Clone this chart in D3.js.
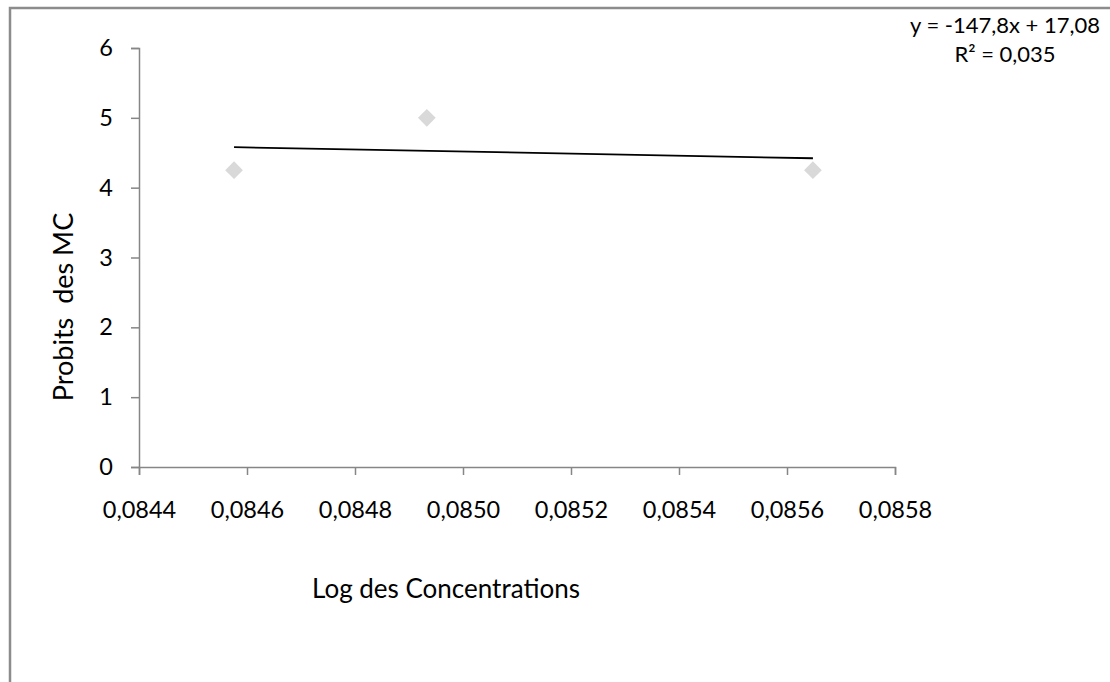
<!DOCTYPE html>
<html>
<head>
<meta charset="utf-8">
<script src="https://cdn.jsdelivr.net/npm/d3@7"></script>
<style>
  body { margin: 0; background: #fff; }
  svg text { font-family: Lato, "Open Sans", sans-serif; fill: #000; }
</style>
</head>
<body>
<div id="chart"></div>
<script>
// donnees
const logConc = [0.084576, 0.084933, 0.085648];
const probits = [4.25, 5.0, 4.25];
const xTicks = [0.0844, 0.0846, 0.0848, 0.0850, 0.0852, 0.0854, 0.0856, 0.0858];
const yTicks = [0, 1, 2, 3, 4, 5, 6];
const slope = -147.8;
const intercept = 17.08;
const eqLines = ["y = -147,8x + 17,08", "R² = 0,035"];

const width = 1110, height = 682;
const margin = { left: 139, right: 215, top: 48, bottom: 215 };

const svg = d3.select("#chart").append("svg")
  .attr("width", width)
  .attr("height", height);

// cadre
svg.append("path")
  .attr("d", `M10,${height} L10,8 L${width},8`)
  .attr("fill", "none")
  .attr("stroke", "#8c8c8c")
  .attr("stroke-width", 2.5);

const x = d3.scaleLinear()
  .domain([0.0844, 0.0858])
  .range([margin.left, width - margin.right]);

const y = d3.scaleLinear()
  .domain([0, 6])
  .range([height - margin.bottom, margin.top]);

const fmt = d => d3.format(".4f")(d).replace(".", ",");

const xAxis = svg.append("g")
  .attr("transform", `translate(0,${y(0)})`)
  .call(d3.axisBottom(x).tickValues(xTicks).tickFormat(fmt).tickSize(8).tickPadding(26));

const yAxis = svg.append("g")
  .attr("transform", `translate(${margin.left},0)`)
  .call(d3.axisLeft(y).tickValues(yTicks).tickFormat(d3.format("d")).tickSize(8).tickPadding(18));

[xAxis, yAxis].forEach(g => {
  g.select(".domain").attr("stroke", "#868686").attr("stroke-width", 1.5);
  g.selectAll(".tick line").attr("stroke", "#868686").attr("stroke-width", 1.5);
  g.selectAll(".tick text").attr("font-size", 23.5).style("font-family", "Lato, 'Open Sans', sans-serif");
});

// courbe de tendance
const x0 = d3.min(logConc), x1 = d3.max(logConc);
svg.append("line")
  .attr("x1", x(x0)).attr("y1", y(slope * x0 + intercept))
  .attr("x2", x(x1)).attr("y2", y(slope * x1 + intercept))
  .attr("stroke", "#000")
  .attr("stroke-width", 1.8);

// points
const diamond = d3.symbol().type(d3.symbolDiamond2).size(200);
svg.append("g").selectAll("path")
  .data(logConc.map((v, i) => [v, probits[i]]))
  .enter()
  .append("path")
  .attr("d", diamond)
  .attr("transform", d => `translate(${x(d[0])},${y(d[1])})`)
  .attr("fill", "#d9d9d9");

// titres des axes
svg.append("text")
  .attr("transform", "translate(73,307) rotate(-90)")
  .attr("text-anchor", "middle")
  .attr("font-size", 27)
  .attr("xml:space", "preserve")
  .text("Probits  des MC");

svg.append("text")
  .attr("x", 446)
  .attr("y", 598)
  .attr("text-anchor", "middle")
  .attr("font-size", 26)
  .text("Log des Concentrations");

// equation
svg.append("g").selectAll("text")
  .data(eqLines)
  .enter()
  .append("text")
  .attr("x", 1005)
  .attr("y", (d, i) => 33 + i * 29)
  .attr("text-anchor", "middle")
  .attr("font-size", 22)
  .text(d => d);
</script>
</body>
</html>
